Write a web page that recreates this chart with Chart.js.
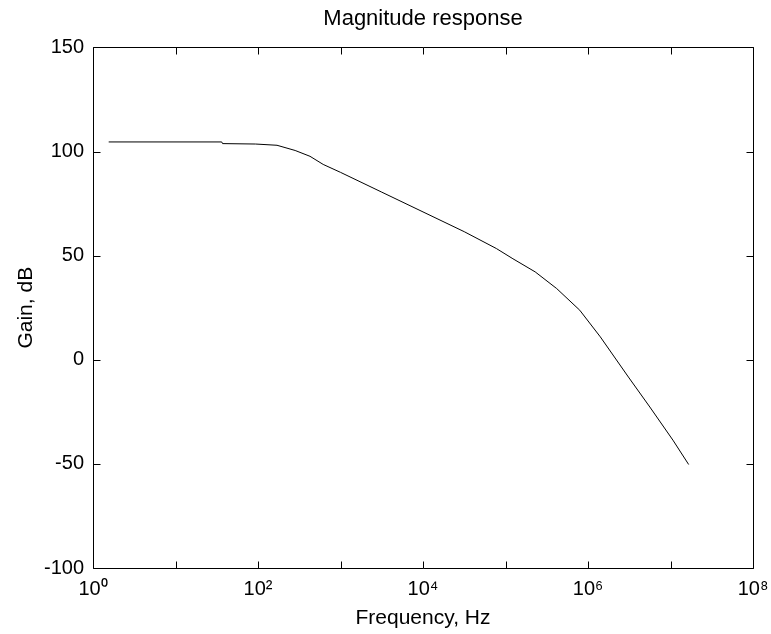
<!DOCTYPE html>
<html>
<head>
<meta charset="utf-8">
<script src="https://cdn.jsdelivr.net/npm/chart.js@4/dist/chart.umd.min.js"></script>
<style>
  html, body { margin: 0; padding: 0; background: #fff; }
  #c { display: block; }
</style>
</head>
<body>
<canvas id="c" width="771" height="634"></canvas>
<script>
// ---- data ----
const freqHz = [1.55, 36.3, 37.2, 93, 170, 282, 427, 617, 1000, 3162, 10000, 31623, 77600, 123000, 229000, 417000, 794000, 1410000, 3090000, 5620000, 10700000, 16600000];
const gainDb = [104.6, 104.6, 103.8, 103.6, 103.0, 100.5, 97.7, 93.8, 90.0, 80.5, 71.0, 61.5, 53.4, 48.5, 42.2, 34.2, 23.8, 11.0, -8.3, -22.7, -38.6, -50.3];
const xTickValues = [1, 10, 100, 1000, 10000, 100000, 1000000, 10000000, 100000000];
const xTickLabels = ['10⁰', '', '10²', '', '10⁴', '', '10⁶', '', '10⁸'];
const yTickValues = [-100, -50, 0, 50, 100, 150];

const FAMILY = '"Liberation Sans", Arial, Helvetica, sans-serif';
const TICK_FONT = { family: FAMILY, size: 20, weight: 'normal' };
const AXIS_FONT = { family: FAMILY, size: 21, weight: 'normal' };
const TITLE_FONT = { family: FAMILY, size: 22, weight: 'normal' };

const boxTicks = {
  id: 'boxTicks',
  beforeDraw(chart) {
    const c = chart.ctx;
    c.save();
    c.fillStyle = '#fff';
    c.fillRect(0, 0, chart.width, chart.height);
    c.restore();
  },
  afterDraw(chart) {
    const c = chart.ctx;
    const a = chart.chartArea;
    const xs = chart.scales.x, ys = chart.scales.y;
    const L = 7;
    c.save();
    c.strokeStyle = '#000';
    c.lineWidth = 1;
    c.beginPath();
    const l = Math.round(a.left) + 0.5, r = Math.round(a.right) + 0.5;
    const t = Math.round(a.top) + 0.5, b = Math.round(a.bottom) + 0.5;
    c.rect(l, t, r - l, b - t);
    xs.ticks.forEach(tk => {
      const px = Math.round(xs.getPixelForValue(tk.value)) + 0.5;
      c.moveTo(px, b); c.lineTo(px, b - L);
      c.moveTo(px, t); c.lineTo(px, t + L);
    });
    ys.ticks.forEach(tk => {
      const py = Math.round(ys.getPixelForValue(tk.value)) + 0.5;
      c.moveTo(l, py); c.lineTo(l + L, py);
      c.moveTo(r, py); c.lineTo(r - L, py);
    });
    c.stroke();
    c.restore();
  }
};

new Chart(document.getElementById('c'), {
  type: 'line',
  data: {
    datasets: [{
      data: freqHz.map((f, i) => ({ x: f, y: gainDb[i] })),
      borderColor: '#000',
      borderWidth: 1,
      pointRadius: 0,
      tension: 0,
      fill: false
    }]
  },
  plugins: [boxTicks],
  options: {
    responsive: false,
    animation: false,
    events: [],
    layout: { padding: { top: 0, right: 18, bottom: 0, left: 0 } },
    plugins: {
      legend: { display: false },
      tooltip: { enabled: false },
      title: {
        display: true,
        fullSize: false,
        text: 'Magnitude response',
        color: '#000',
        font: TITLE_FONT,
        padding: { top: 6, bottom: 15 }
      }
    },
    scales: {
      x: {
        type: 'logarithmic',
        min: 1,
        max: 1e8,
        afterBuildTicks: s => { s.ticks = xTickValues.map(v => ({ value: v })); },
        afterFit: s => { s.height = 66; s.paddingLeft = 0; s.paddingRight = 0; },
        ticks: {
          autoSkip: false,
          maxRotation: 0,
          minRotation: 0,
          color: '#000',
          font: TICK_FONT,
          padding: 9,
          callback: (v, i) => xTickLabels[i]
        },
        grid: { display: false, drawTicks: false },
        border: { display: false },
        title: {
          display: true,
          text: 'Frequency, Hz',
          color: '#000',
          font: AXIS_FONT,
          padding: { top: 3, bottom: 3 }
        }
      },
      y: {
        type: 'linear',
        min: -100,
        max: 150,
        afterBuildTicks: s => { s.ticks = yTickValues.map(v => ({ value: v })); },
        afterFit: s => { s.width = 93; s.paddingTop = 0; s.paddingBottom = 0; },
        ticks: {
          color: '#000',
          font: TICK_FONT,
          padding: 9,
          callback: v => String(v)
        },
        grid: { display: false, drawTicks: false },
        border: { display: false },
        title: {
          display: true,
          text: 'Gain, dB',
          color: '#000',
          font: AXIS_FONT,
          padding: { top: 14, bottom: 0 }
        }
      }
    }
  }
});
</script>
</body>
</html>
